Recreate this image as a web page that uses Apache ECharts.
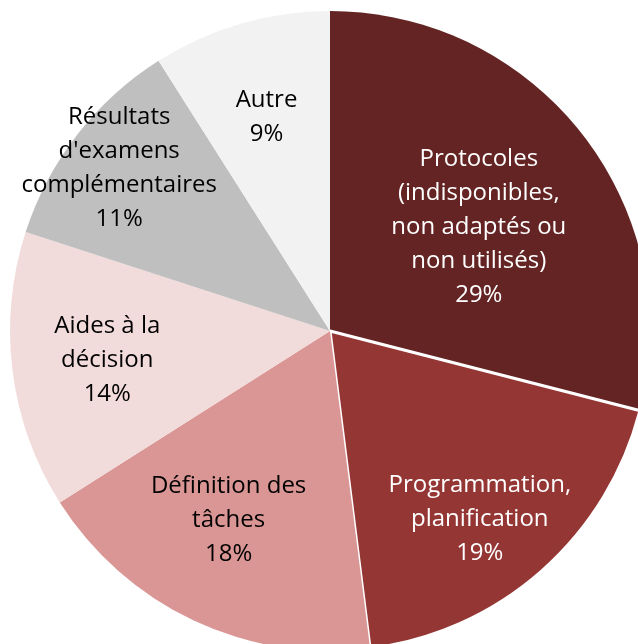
<!DOCTYPE html>
<html>
<head>
<meta charset="utf-8">
<script src="https://cdn.jsdelivr.net/npm/echarts@6/dist/echarts.min.js"></script>
<style>
  html, body { margin: 0; padding: 0; background: #fff; }
  #chart { width: 638px; height: 644px; }
</style>
</head>
<body>
<div id="chart"></div>
<script>
const chart = echarts.init(document.getElementById("chart"));

// data
const categories = [
  "Protocoles\n(indisponibles,\nnon adaptés ou\nnon utilisés)",
  "Programmation,\nplanification",
  "Définition des\ntâches",
  "Aides à la\ndécision",
  "Résultats\nd'examens\ncomplémentaires",
  "Autre"
];
const shares = [29, 19, 18, 14, 11, 9];

// styles
const colors = ["#632423", "#943634", "#D99694", "#F2DCDB", "#BFBFBF", "#F2F2F2"];
const textColors = ["#fff", "#fff", "#000", "#000", "#000", "#000"];
const labelOffsets = [[20, -4], [42, 66], [-32, 42], [-61, 9], [-82, -63], [-18, -57]];

chart.setOption({
  animation: false,
  series: [
    {
      type: "pie",
      center: [330, 331],
      radius: 320,
      startAngle: 90,
      clockwise: true,
      label: {
        show: true,
        position: "inside",
        fontFamily: "Open Sans",
        fontSize: 24,
        lineHeight: 34,
        align: "center",
        formatter: p => `${p.name}\n${p.value}%`
      },
      labelLine: { show: false },
      data: categories.map((name, i) => ({
        name,
        value: shares[i],
        itemStyle: {
          color: colors[i],
          borderColor: "#fff",
          borderWidth: i === 1 ? 3 : 0
        },
        label: {
          color: textColors[i],
          offset: labelOffsets[i]
        }
      }))
    }
  ]
});
</script>
</body>
</html>
